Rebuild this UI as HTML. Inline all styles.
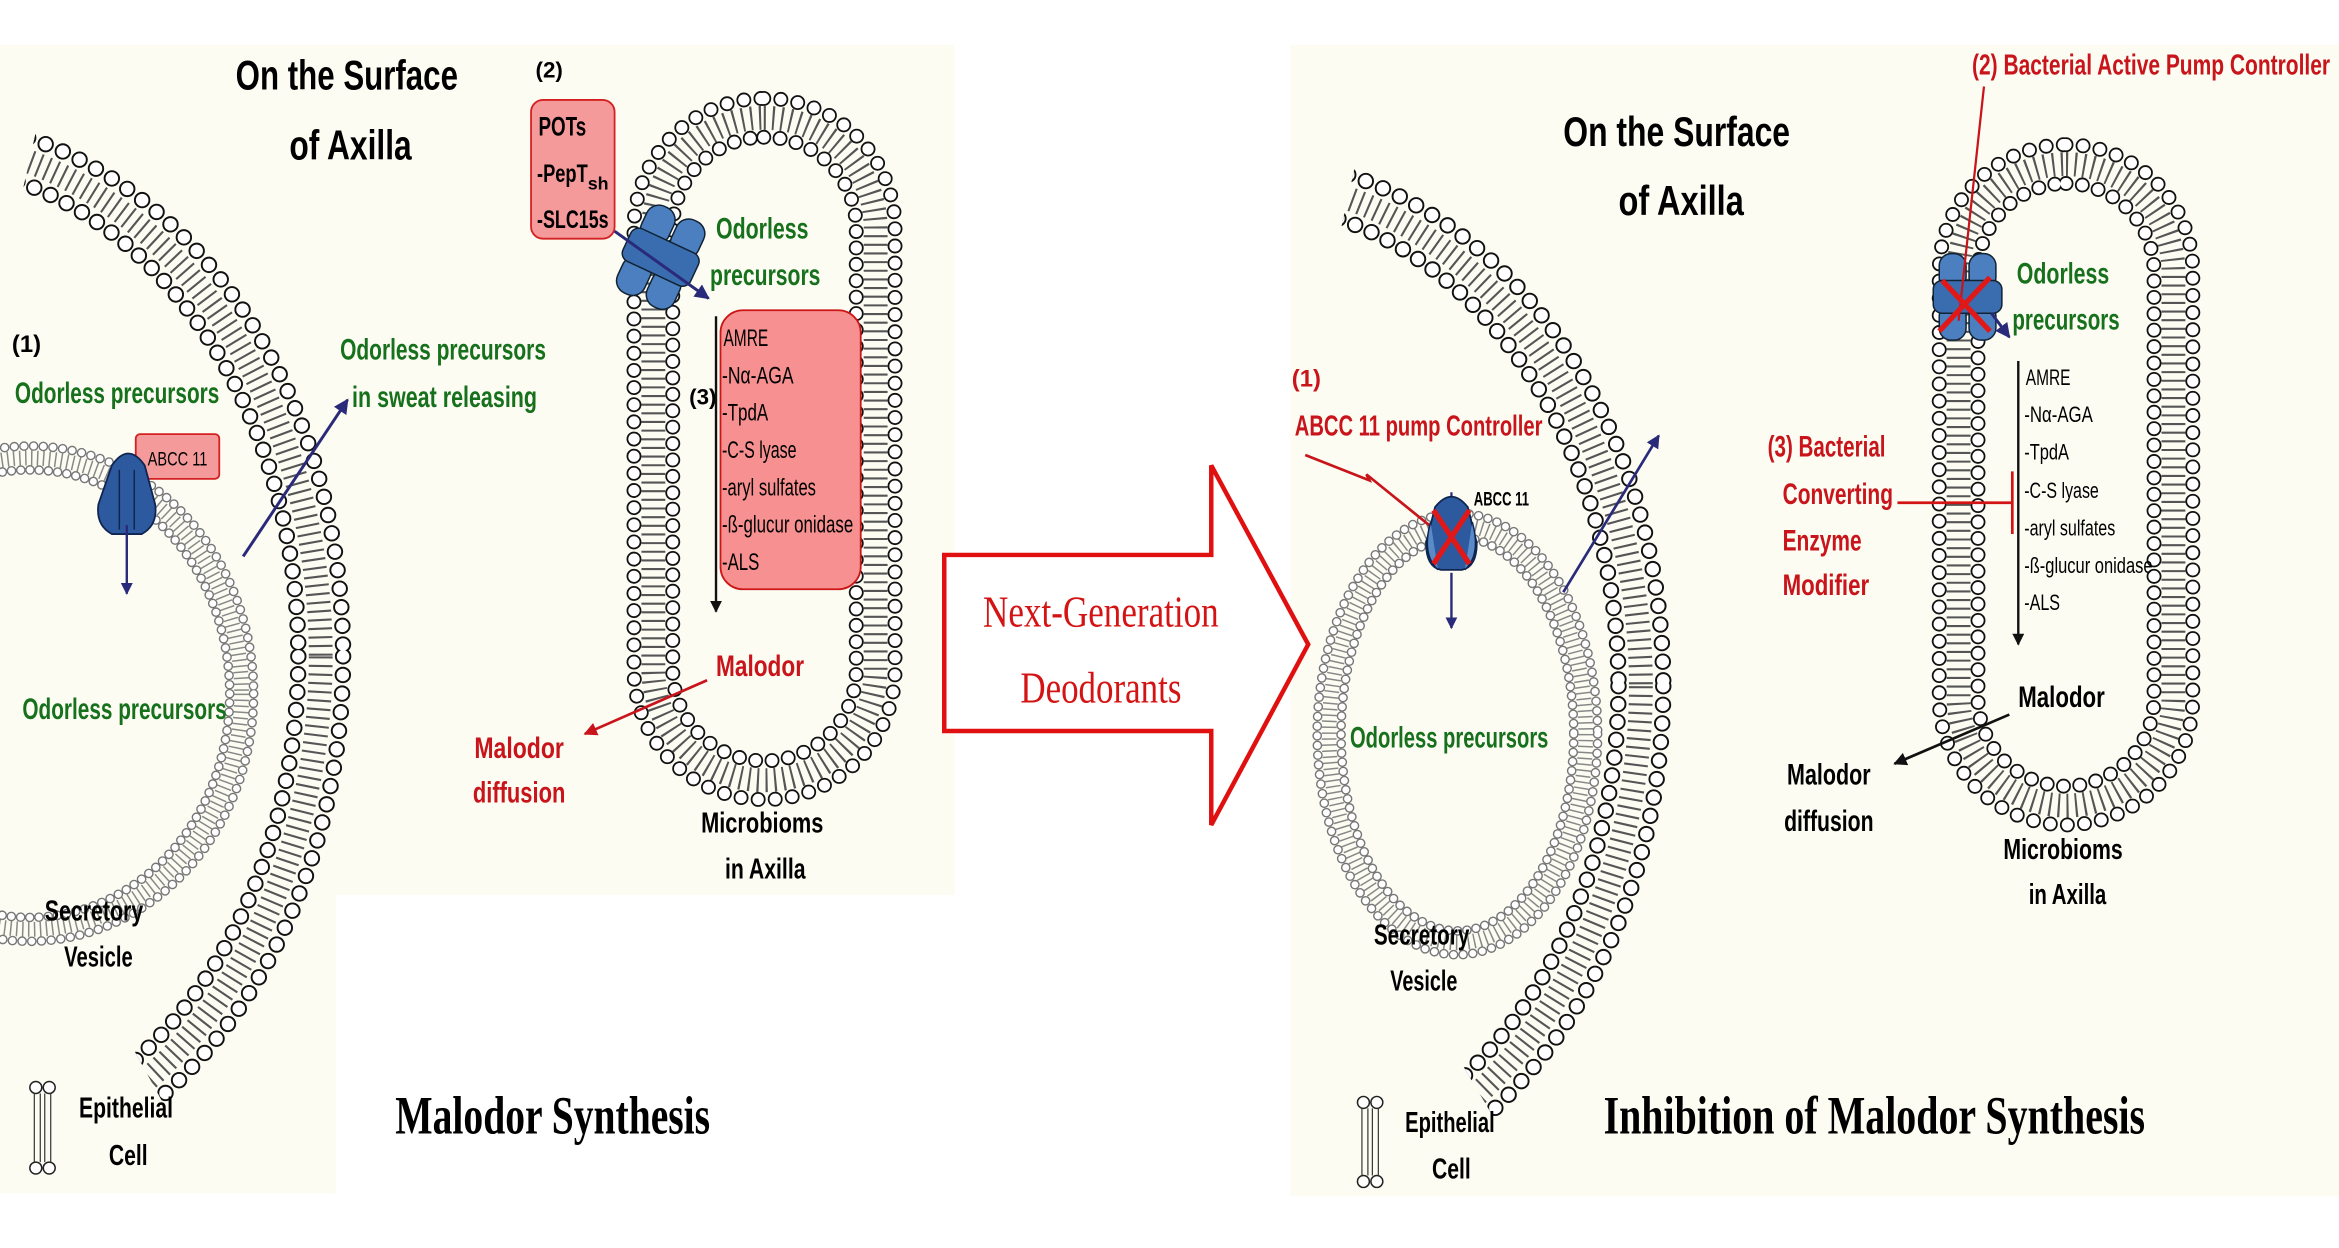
<!DOCTYPE html>
<html><head><meta charset="utf-8"><style>
html,body{margin:0;padding:0;background:#fff;width:2339px;height:1248px;overflow:hidden}
svg{display:block}
.b{font-family:"Liberation Sans",sans-serif;font-weight:bold}
.n{font-family:"Liberation Sans",sans-serif}
.g{fill:#16701c}
.r{fill:#c8141a}
.s{font-family:"Liberation Serif",serif;font-weight:bold}
</style></head><body>
<svg width="2339" height="1248" viewBox="0 0 1568 836.6" preserveAspectRatio="none" xmlns="http://www.w3.org/2000/svg">
<defs>
<marker id="an" viewBox="0 0 10 10" refX="9" refY="5" markerWidth="5" markerHeight="5" orient="auto"><path d="M0,0L10,5L0,10z" fill="#2a2a7a"/></marker>
<marker id="ak" viewBox="0 0 10 10" refX="9" refY="5" markerWidth="5" markerHeight="5" orient="auto"><path d="M0,0L10,5L0,10z" fill="#111"/></marker>
<marker id="ar" viewBox="0 0 10 10" refX="9" refY="5" markerWidth="5" markerHeight="5" orient="auto"><path d="M0,0L10,5L0,10z" fill="#c8141a"/></marker>
<clipPath id="cl1"><polygon points="-55,440 94,-223 700,-223 700,1005 255,1005"/></clipPath>
<clipPath id="cl2"><polygon points="830,460 979,-203 1400,-203 1400,1017 1160,1017"/></clipPath>
</defs>
<rect width="1568" height="837" fill="#fff"/>
<rect x="0" y="30" width="225" height="770" fill="#fcfcf3"/>
<rect x="225" y="30" width="415" height="570" fill="#fcfcf3"/>
<rect x="865" y="30" width="703" height="772" fill="#fcfcf3"/>

<g clip-path="url(#cl1)" fill="none">
<ellipse cx="-55" cy="440" rx="270" ry="345" stroke="#555" stroke-width="16" stroke-dasharray="1.4 4.4"/>
<ellipse cx="-55" cy="440" rx="285" ry="360" stroke="#111" stroke-width="11" stroke-linecap="round" stroke-dasharray="0 12.5"/>
<ellipse cx="-55" cy="440" rx="285" ry="360" stroke="#fff" stroke-width="8.4" stroke-linecap="round" stroke-dasharray="0 12.5"/>
<ellipse cx="-55" cy="440" rx="255" ry="330" stroke="#111" stroke-width="11" stroke-linecap="round" stroke-dasharray="0 12"/>
<ellipse cx="-55" cy="440" rx="255" ry="330" stroke="#fff" stroke-width="8.4" stroke-linecap="round" stroke-dasharray="0 12"/>
</g>
<g clip-path="url(#cl2)" fill="none">
<ellipse cx="830" cy="460" rx="270" ry="340" stroke="#555" stroke-width="16" stroke-dasharray="1.4 4.4"/>
<ellipse cx="830" cy="460" rx="285" ry="355" stroke="#111" stroke-width="11" stroke-linecap="round" stroke-dasharray="0 12.5"/>
<ellipse cx="830" cy="460" rx="285" ry="355" stroke="#fff" stroke-width="8.4" stroke-linecap="round" stroke-dasharray="0 12.5"/>
<ellipse cx="830" cy="460" rx="255" ry="325" stroke="#111" stroke-width="11" stroke-linecap="round" stroke-dasharray="0 12"/>
<ellipse cx="830" cy="460" rx="255" ry="325" stroke="#fff" stroke-width="8.4" stroke-linecap="round" stroke-dasharray="0 12"/>
</g>

<g fill="none">
<ellipse cx="20" cy="465" rx="142" ry="158" stroke="#888" stroke-width="10" stroke-dasharray="1 3"/>
<ellipse cx="20" cy="465" rx="150" ry="166" stroke="#777" stroke-width="6.5" stroke-linecap="round" stroke-dasharray="0 6.5"/>
<ellipse cx="20" cy="465" rx="150" ry="166" stroke="#fff" stroke-width="4.6" stroke-linecap="round" stroke-dasharray="0 6.5"/>
<ellipse cx="20" cy="465" rx="134" ry="150" stroke="#777" stroke-width="6.5" stroke-linecap="round" stroke-dasharray="0 6.2"/>
<ellipse cx="20" cy="465" rx="134" ry="150" stroke="#fff" stroke-width="4.6" stroke-linecap="round" stroke-dasharray="0 6.2"/>

<ellipse cx="977" cy="492" rx="86" ry="140" stroke="#888" stroke-width="10" stroke-dasharray="1 3"/>
<ellipse cx="977" cy="492" rx="94" ry="148" stroke="#777" stroke-width="6.5" stroke-linecap="round" stroke-dasharray="0 6.5"/>
<ellipse cx="977" cy="492" rx="94" ry="148" stroke="#fff" stroke-width="4.6" stroke-linecap="round" stroke-dasharray="0 6.5"/>
<ellipse cx="977" cy="492" rx="78" ry="132" stroke="#777" stroke-width="6.5" stroke-linecap="round" stroke-dasharray="0 6.2"/>
<ellipse cx="977" cy="492" rx="78" ry="132" stroke="#fff" stroke-width="4.6" stroke-linecap="round" stroke-dasharray="0 6.2"/>
</g>

<g fill="none">
<rect x="438" y="79" width="149" height="444" rx="74" stroke="#555" stroke-width="16" stroke-dasharray="1.4 4.4"/>
<rect x="425" y="66" width="175" height="470" rx="87" stroke="#111" stroke-width="10" stroke-linecap="round" stroke-dasharray="0 11.5"/>
<rect x="425" y="66" width="175" height="470" rx="87" stroke="#fff" stroke-width="7.6" stroke-linecap="round" stroke-dasharray="0 11.5"/>
<rect x="451" y="92" width="123" height="418" rx="61" stroke="#111" stroke-width="10" stroke-linecap="round" stroke-dasharray="0 11"/>
<rect x="451" y="92" width="123" height="418" rx="61" stroke="#fff" stroke-width="7.6" stroke-linecap="round" stroke-dasharray="0 11"/>

<rect x="1313" y="110" width="144" height="430" rx="72" stroke="#555" stroke-width="16" stroke-dasharray="1.4 4.4"/>
<rect x="1300" y="97" width="170" height="456" rx="85" stroke="#111" stroke-width="10" stroke-linecap="round" stroke-dasharray="0 11.5"/>
<rect x="1300" y="97" width="170" height="456" rx="85" stroke="#fff" stroke-width="7.6" stroke-linecap="round" stroke-dasharray="0 11.5"/>
<rect x="1326" y="123" width="118" height="404" rx="59" stroke="#111" stroke-width="10" stroke-linecap="round" stroke-dasharray="0 11"/>
<rect x="1326" y="123" width="118" height="404" rx="59" stroke="#fff" stroke-width="7.6" stroke-linecap="round" stroke-dasharray="0 11"/>
</g>

<text class="b" x="158" y="60" font-size="28" textLength="149" lengthAdjust="spacingAndGlyphs">On the Surface</text>
<text class="b" x="194" y="107" font-size="28" textLength="82" lengthAdjust="spacingAndGlyphs">of Axilla</text>
<text class="b" x="359" y="52" font-size="15">(2)</text>
<rect x="356" y="67" width="56" height="93" rx="8" fill="#f59a9a" stroke="#d42020" stroke-width="1.2"/>
<text class="b" x="361" y="91" font-size="18" textLength="32" lengthAdjust="spacingAndGlyphs">POTs</text>
<text class="b" x="360" y="122" font-size="17" textLength="34" lengthAdjust="spacingAndGlyphs">-PepT</text><text class="b" x="394" y="127" font-size="12">sh</text>
<text class="b" x="360" y="153" font-size="17" textLength="48" lengthAdjust="spacingAndGlyphs">-SLC15s</text>
<g transform="rotate(25 442 172)">
<rect x="422" y="140" width="20" height="26" rx="9" fill="#4b7fbf" stroke="#123" stroke-width="1"/>
<rect x="444" y="140" width="20" height="26" rx="9" fill="#4b7fbf" stroke="#123" stroke-width="1"/>
<rect x="422" y="178" width="20" height="26" rx="9" fill="#4b7fbf" stroke="#123" stroke-width="1"/>
<rect x="444" y="178" width="20" height="26" rx="9" fill="#4b7fbf" stroke="#123" stroke-width="1"/>
<rect x="418" y="160" width="50" height="24" rx="6" fill="#3a6db0" stroke="#123" stroke-width="1"/>
</g>
<line x1="412" y1="155" x2="475" y2="200" stroke="#2a2a7a" stroke-width="2" marker-end="url(#an)"/>
<text class="b g" x="480" y="160" font-size="20" textLength="62" lengthAdjust="spacingAndGlyphs">Odorless</text>
<text class="b g" x="476" y="191" font-size="20" textLength="74" lengthAdjust="spacingAndGlyphs">precursors</text>
<rect x="483" y="208" width="94" height="187" rx="15" fill="#f79090" stroke="#cc1515" stroke-width="1.2"/>
<g class="n" font-size="16">
<text x="485" y="232" textLength="30" lengthAdjust="spacingAndGlyphs">AMRE</text>
<text x="484" y="257" textLength="48" lengthAdjust="spacingAndGlyphs">-Nα-AGA</text>
<text x="484" y="282" textLength="31" lengthAdjust="spacingAndGlyphs">-TpdA</text>
<text x="484" y="307" textLength="50" lengthAdjust="spacingAndGlyphs">-C-S lyase</text>
<text x="484" y="332" textLength="63" lengthAdjust="spacingAndGlyphs">-aryl sulfates</text>
<text x="484" y="357" textLength="88" lengthAdjust="spacingAndGlyphs">-ß-glucur onidase</text>
<text x="484" y="382" textLength="25" lengthAdjust="spacingAndGlyphs">-ALS</text>
</g>
<text class="b" x="462" y="271" font-size="15">(3)</text>
<line x1="480" y1="212" x2="480" y2="410" stroke="#111" stroke-width="1.6" marker-end="url(#ak)"/>
<text class="b r" x="480" y="453" font-size="20" textLength="59" lengthAdjust="spacingAndGlyphs">Malodor</text>
<line x1="474" y1="456" x2="392" y2="492" stroke="#c8141a" stroke-width="1.8" marker-end="url(#ar)"/>
<text class="b r" x="318" y="508" font-size="20" textLength="60" lengthAdjust="spacingAndGlyphs">Malodor</text>
<text class="b r" x="317" y="538" font-size="20" textLength="62" lengthAdjust="spacingAndGlyphs">diffusion</text>
<text class="b" x="470" y="558" font-size="19" textLength="82" lengthAdjust="spacingAndGlyphs">Microbioms</text>
<text class="b" x="486" y="589" font-size="19" textLength="54" lengthAdjust="spacingAndGlyphs">in Axilla</text>

<text class="b" x="8" y="236" font-size="16">(1)</text>
<text class="b g" x="10" y="270" font-size="20" textLength="137" lengthAdjust="spacingAndGlyphs">Odorless precursors</text>
<rect x="91" y="291" width="56" height="30" rx="3" fill="#f59a9a" stroke="#d42020" stroke-width="1.2"/>
<text class="n" x="99" y="312" font-size="13" textLength="40" lengthAdjust="spacingAndGlyphs">ABCC 11</text>
<path d="M75,312 Q86,296 97,312 L104,338 Q106,352 95,358 L75,358 Q64,352 66,338 Z" fill="#2d5a9e" stroke="#0f2550" stroke-width="1.2"/>
<path d="M80,315 L80,355 M90,315 L90,355" stroke="#0f2550" stroke-width="1"/>
<line x1="85" y1="352" x2="85" y2="398" stroke="#2a2a7a" stroke-width="1.6" marker-end="url(#an)"/>
<line x1="163" y1="373" x2="233" y2="268" stroke="#2a2a7a" stroke-width="2" marker-end="url(#an)"/>
<text class="b g" x="228" y="241" font-size="20" textLength="138" lengthAdjust="spacingAndGlyphs">Odorless precursors</text>
<text class="b g" x="236" y="273" font-size="20" textLength="124" lengthAdjust="spacingAndGlyphs">in sweat releasing</text>
<text class="b g" x="15" y="482" font-size="20" textLength="137" lengthAdjust="spacingAndGlyphs">Odorless precursors</text>
<text class="b" x="30" y="617" font-size="19" textLength="66" lengthAdjust="spacingAndGlyphs">Secretory</text>
<text class="b" x="43" y="648" font-size="19" textLength="46" lengthAdjust="spacingAndGlyphs">Vesicle</text>
<g fill="#fff" stroke="#222" stroke-width="1"><circle cx="24" cy="729" r="4"/><circle cx="33" cy="729" r="4"/><circle cx="24" cy="783" r="4"/><circle cx="33" cy="783" r="4"/></g>
<path d="M23,733 V757 M27,733 V757 M30,733 V757 M34,733 V757 M23,755 V779 M27,755 V779 M30,755 V779 M34,755 V779" stroke="#333" stroke-width="0.8"/>
<text class="b" x="53" y="749" font-size="19" textLength="63" lengthAdjust="spacingAndGlyphs">Epithelial</text>
<text class="b" x="73" y="781" font-size="19" textLength="26" lengthAdjust="spacingAndGlyphs">Cell</text>
<text class="s" x="265" y="760" font-size="36" textLength="211" lengthAdjust="spacingAndGlyphs">Malodor Synthesis</text>

<path d="M633,372 L812,372 L812,312 L877,432 L812,553 L812,490 L633,490 Z" fill="#fff" stroke="#e01010" stroke-width="3"/>
<text x="738" y="420" text-anchor="middle" font-family="Liberation Serif,serif" font-size="30" fill="#d41414" textLength="158" lengthAdjust="spacingAndGlyphs">Next-Generation</text>
<text x="738" y="471" text-anchor="middle" font-family="Liberation Serif,serif" font-size="30" fill="#d41414" textLength="108" lengthAdjust="spacingAndGlyphs">Deodorants</text>

<text class="b" x="1048" y="98" font-size="28" textLength="152" lengthAdjust="spacingAndGlyphs">On the Surface</text>
<text class="b" x="1085" y="144" font-size="28" textLength="84" lengthAdjust="spacingAndGlyphs">of Axilla</text>
<text class="b r" x="1322" y="50" font-size="19" textLength="240" lengthAdjust="spacingAndGlyphs">(2) Bacterial Active Pump Controller</text>
<rect x="1300" y="170" width="18" height="24" rx="8" fill="#4b7fbf" stroke="#123" stroke-width="1"/>
<rect x="1320" y="170" width="18" height="24" rx="8" fill="#4b7fbf" stroke="#123" stroke-width="1"/>
<rect x="1300" y="204" width="18" height="24" rx="8" fill="#4b7fbf" stroke="#123" stroke-width="1"/>
<rect x="1320" y="204" width="18" height="24" rx="8" fill="#4b7fbf" stroke="#123" stroke-width="1"/>
<rect x="1296" y="188" width="46" height="22" rx="6" fill="#3a6db0" stroke="#123" stroke-width="1"/>
<line x1="1335" y1="210" x2="1347" y2="226" stroke="#2a2a7a" stroke-width="2" marker-end="url(#an)"/>
<line x1="1330" y1="58" x2="1313" y2="215" stroke="#c8141a" stroke-width="1.5"/>
<path d="M1302,188 L1334,222 M1334,186 L1300,222" stroke="#e01818" stroke-width="3.5"/>
<text class="b g" x="1352" y="190" font-size="20" textLength="62" lengthAdjust="spacingAndGlyphs">Odorless</text>
<text class="b g" x="1349" y="221" font-size="20" textLength="72" lengthAdjust="spacingAndGlyphs">precursors</text>
<line x1="1353" y1="242" x2="1353" y2="432" stroke="#111" stroke-width="1.6" marker-end="url(#ak)"/>
<g class="n" font-size="15">
<text x="1358" y="258" textLength="30" lengthAdjust="spacingAndGlyphs">AMRE</text>
<text x="1357" y="283" textLength="46" lengthAdjust="spacingAndGlyphs">-Nα-AGA</text>
<text x="1357" y="308" textLength="30" lengthAdjust="spacingAndGlyphs">-TpdA</text>
<text x="1357" y="334" textLength="50" lengthAdjust="spacingAndGlyphs">-C-S lyase</text>
<text x="1357" y="359" textLength="61" lengthAdjust="spacingAndGlyphs">-aryl sulfates</text>
<text x="1357" y="384" textLength="86" lengthAdjust="spacingAndGlyphs">-ß-glucur onidase</text>
<text x="1357" y="409" textLength="24" lengthAdjust="spacingAndGlyphs">-ALS</text>
</g>
<text class="b r" x="1185" y="306" font-size="20" textLength="79" lengthAdjust="spacingAndGlyphs">(3) Bacterial</text>
<text class="b r" x="1195" y="338" font-size="20" textLength="74" lengthAdjust="spacingAndGlyphs">Converting</text>
<text class="b r" x="1195" y="369" font-size="20" textLength="53" lengthAdjust="spacingAndGlyphs">Enzyme</text>
<text class="b r" x="1195" y="399" font-size="20" textLength="58" lengthAdjust="spacingAndGlyphs">Modifier</text>
<path d="M1272,337 H1349 M1349,316 V358" stroke="#d41414" stroke-width="1.8" fill="none"/>
<text class="b" x="1353" y="474" font-size="20" textLength="58" lengthAdjust="spacingAndGlyphs">Malodor</text>
<line x1="1347" y1="479" x2="1270" y2="512" stroke="#111" stroke-width="1.8" marker-end="url(#ak)"/>
<text class="b" x="1198" y="526" font-size="20" textLength="56" lengthAdjust="spacingAndGlyphs">Malodor</text>
<text class="b" x="1196" y="557" font-size="20" textLength="60" lengthAdjust="spacingAndGlyphs">diffusion</text>
<text class="b" x="1343" y="576" font-size="19" textLength="80" lengthAdjust="spacingAndGlyphs">Microbioms</text>
<text class="b" x="1360" y="606" font-size="19" textLength="52" lengthAdjust="spacingAndGlyphs">in Axilla</text>

<text class="b r" x="866" y="259" font-size="16">(1)</text>
<text class="b r" x="868" y="292" font-size="19" textLength="166" lengthAdjust="spacingAndGlyphs">ABCC 11 pump Controller</text>
<path d="M875,305 L918,322 L916,318 L963,356" stroke="#c8141a" stroke-width="1.8" fill="none"/>
<line x1="973" y1="330" x2="973" y2="340" stroke="#2a2a7a" stroke-width="1.5"/>
<path d="M962,340 Q973,326 984,340 L990,364 Q990,380 980,382 L966,382 Q956,380 956,364 Z" fill="#2d5a9e" stroke="#0f2550" stroke-width="1.2"/>
<path d="M959,350 Q953,372 964,382 M987,350 Q993,372 982,382" stroke="#0f2550" fill="#5a8ac8" stroke-width="1"/>
<path d="M961,342 L985,378 M985,342 L961,378" stroke="#e01818" stroke-width="3.5"/>
<text class="n" x="988" y="339" font-size="13" textLength="37" lengthAdjust="spacingAndGlyphs" font-weight="bold">ABCC 11</text>
<line x1="973" y1="384" x2="973" y2="421" stroke="#2a2a7a" stroke-width="1.6" marker-end="url(#an)"/>
<line x1="1048" y1="397" x2="1112" y2="292" stroke="#2a2a7a" stroke-width="1.8" marker-end="url(#an)"/>
<text class="b g" x="905" y="501" font-size="20" textLength="133" lengthAdjust="spacingAndGlyphs">Odorless precursors</text>
<text class="b" x="921" y="633" font-size="19" textLength="64" lengthAdjust="spacingAndGlyphs">Secretory</text>
<text class="b" x="932" y="664" font-size="19" textLength="45" lengthAdjust="spacingAndGlyphs">Vesicle</text>
<g fill="#fff" stroke="#222" stroke-width="1"><circle cx="914" cy="739" r="4"/><circle cx="923" cy="739" r="4"/><circle cx="914" cy="792" r="4"/><circle cx="923" cy="792" r="4"/></g>
<path d="M913,743 V767 M917,743 V767 M920,743 V767 M924,743 V767 M913,765 V788 M917,765 V788 M920,765 V788 M924,765 V788" stroke="#333" stroke-width="0.8"/>
<text class="b" x="942" y="759" font-size="19" textLength="60" lengthAdjust="spacingAndGlyphs">Epithelial</text>
<text class="b" x="960" y="790" font-size="19" textLength="26" lengthAdjust="spacingAndGlyphs">Cell</text>
<text class="s" x="1075" y="760" font-size="36" textLength="363" lengthAdjust="spacingAndGlyphs">Inhibition of Malodor Synthesis</text>
</svg>
</body></html>
